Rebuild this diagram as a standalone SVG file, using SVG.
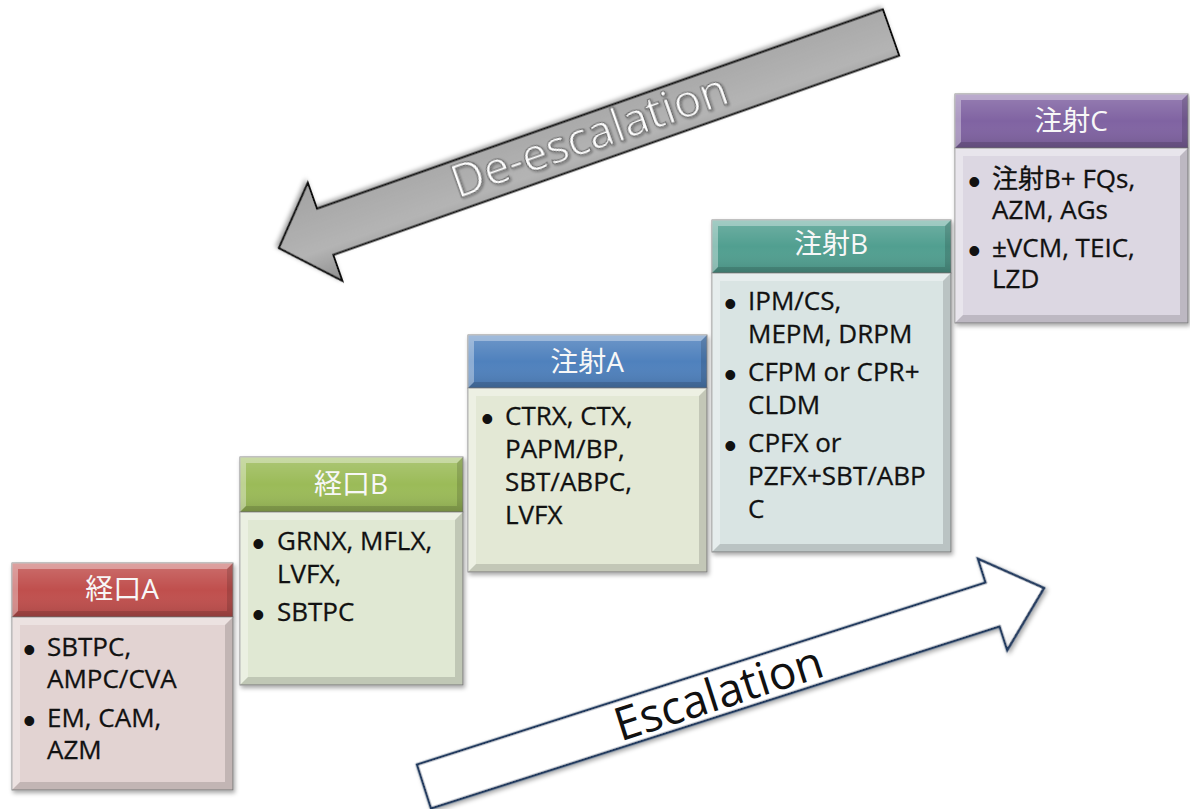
<svg xmlns="http://www.w3.org/2000/svg" width="1190" height="809" viewBox="0 0 1190 809">
  <defs>
    <style>
      .hd-text { font-family: "Open Sans", "Noto Sans CJK JP", sans-serif; font-size: 28px; fill: #F7F7F7; text-anchor: middle; }
      .bd-text { font-family: "Open Sans", "Noto Sans CJK JP", sans-serif; font-size: 26px; fill: #111111; stroke: #111111; stroke-width: 0.3; }
      .bullet { font-family: "Liberation Sans", sans-serif; font-size: 36px; fill: #111111; }
      .hi { fill: #FFFFFF; fill-opacity: 0.35; }
      .lo { fill: #000000; fill-opacity: 0.14; }
      .frame { stroke: #8C8C8C; stroke-width: 1; }
      .gloss { fill: url(#gloss); }
      .arrow-text { font-family: "Open Sans", sans-serif; font-weight: 400; font-size: 46px; text-anchor: middle; }
    </style>
    <linearGradient id="gloss" x1="0" y1="0" x2="0" y2="1">
      <stop offset="0" stop-color="#FFFFFF" stop-opacity="0.18"/>
      <stop offset="0.5" stop-color="#FFFFFF" stop-opacity="0"/>
      <stop offset="1" stop-color="#000000" stop-opacity="0.12"/>
    </linearGradient>
    <linearGradient id="greyArrow" x1="0" y1="0" x2="0" y2="1">
      <stop offset="0" stop-color="#8E8E8E"/>
      <stop offset="0.35" stop-color="#B4B4B4"/>
      <stop offset="1" stop-color="#A2A2A2"/>
    </linearGradient>
    <linearGradient id="whiteArrow" x1="0" y1="0" x2="0" y2="1">
      <stop offset="0" stop-color="#FFFFFF"/>
      <stop offset="0.8" stop-color="#FFFFFF"/>
      <stop offset="1" stop-color="#E6E6E6"/>
    </linearGradient>
    <filter id="shadow" x="-10%" y="-10%" width="120%" height="130%">
      <feDropShadow dx="1.5" dy="2.5" stdDeviation="2" flood-color="#000000" flood-opacity="0.35"/>
    </filter>
    <filter id="textShadow" x="-5%" y="-20%" width="110%" height="140%">
      <feDropShadow dx="1" dy="1.5" stdDeviation="1" flood-color="#000000" flood-opacity="0.35"/>
    </filter>
  </defs>

  <rect x="0" y="0" width="1190" height="809" fill="#FFFFFF"/>

  <!-- block arrows showing the direction of treatment change -->
  <g id="trend-arrows">
    <g id="deescalation" transform="translate(891,32.5) rotate(160.6)">
      <path d="M0,-24.5 H600 V-52 L649,0 L600,52 V24.5 H0 Z" fill="url(#greyArrow)" stroke="#111111" stroke-width="2" stroke-linejoin="miter" filter="url(#shadow)"/>
    </g>
    <g transform="translate(279,248) rotate(-19.4)">
      <text class="arrow-text" x="330" y="13" fill="#FFFFFF" stroke="#6A6A6A" stroke-width="1.1" filter="url(#textShadow)">De-escalation</text>
    </g>
    <g id="escalation" transform="translate(424,786.5) rotate(-17.75)">
      <path d="M0,-23 H597 V-48 L651,0 L597,48 V23 H0 Z" fill="url(#whiteArrow)" stroke="#243B5E" stroke-width="2.5" stroke-linejoin="miter" filter="url(#shadow)"/>
      <text class="arrow-text" x="309" y="17" fill="#111111">Escalation</text>
    </g>
  </g>

  <!-- oral tier A -->
  <g id="oral-a">
    <g filter="url(#shadow)">
      <rect class="frame" x="12" y="617" width="221" height="173" fill="#E2D3D2"/>
      <rect class="frame" x="12" y="563" width="221" height="54" fill="#C0504D"/>
    </g>
    <rect class="gloss" x="12" y="563" width="221" height="54"/>
    <path class="hi" d="M12,563 h221 l-6,6 h-209 v42 l-6,6 z"/>
    <path class="lo" d="M233,563 v54 h-221 l6,-6 h209 v-42 z"/>
    <path class="hi" d="M12,617 h221 l-8,8 h-205 v157 l-8,8 z"/>
    <path class="lo" d="M233,617 v173 h-221 l8,-8 h205 v-157 z"/>
    <text class="hd-text" x="122" y="599">経口A</text>
    <text class="bullet" x="23" y="662">•</text>
    <text class="bd-text" x="47" y="656">SBTPC,</text>
    <text class="bd-text" x="47" y="688">AMPC/CVA</text>
    <text class="bullet" x="23" y="733">•</text>
    <text class="bd-text" x="47" y="727">EM, CAM,</text>
    <text class="bd-text" x="47" y="759">AZM</text>
  </g>

  <!-- oral tier B -->
  <g id="oral-b">
    <g filter="url(#shadow)">
      <rect class="frame" x="240" y="512" width="223" height="173" fill="#E0E8D3"/>
      <rect class="frame" x="240" y="457" width="223" height="55" fill="#9BBB59"/>
    </g>
    <rect class="gloss" x="240" y="457" width="223" height="55"/>
    <path class="hi" d="M240,457 h223 l-6,6 h-211 v43 l-6,6 z"/>
    <path class="lo" d="M463,457 v55 h-223 l6,-6 h211 v-43 z"/>
    <path class="hi" d="M240,512 h223 l-8,8 h-207 v157 l-8,8 z"/>
    <path class="lo" d="M463,512 v173 h-223 l8,-8 h207 v-157 z"/>
    <text class="hd-text" x="351" y="494">経口B</text>
    <text class="bullet" x="252" y="556">•</text>
    <text class="bd-text" x="277" y="550">GRNX, MFLX,</text>
    <text class="bd-text" x="277" y="583">LVFX,</text>
    <text class="bullet" x="252" y="627">•</text>
    <text class="bd-text" x="277" y="621">SBTPC</text>
  </g>

  <!-- injection tier A -->
  <g id="inj-a">
    <g filter="url(#shadow)">
      <rect class="frame" x="468" y="388" width="239" height="184" fill="#E3E8D5"/>
      <rect class="frame" x="468" y="335" width="239" height="53" fill="#4F81BD"/>
    </g>
    <rect class="gloss" x="468" y="335" width="239" height="53"/>
    <path class="hi" d="M468,335 h239 l-6,6 h-227 v41 l-6,6 z"/>
    <path class="lo" d="M707,335 v53 h-239 l6,-6 h227 v-41 z"/>
    <path class="hi" d="M468,388 h239 l-8,8 h-223 v168 l-8,8 z"/>
    <path class="lo" d="M707,388 v184 h-239 l8,-8 h223 v-168 z"/>
    <text class="hd-text" x="587" y="372">注射A</text>
    <text class="bullet" x="481" y="431">•</text>
    <text class="bd-text" x="505" y="425">CTRX, CTX,</text>
    <text class="bd-text" x="505" y="458">PAPM/BP,</text>
    <text class="bd-text" x="505" y="491">SBT/ABPC,</text>
    <text class="bd-text" x="505" y="524">LVFX</text>
  </g>

  <!-- injection tier B -->
  <g id="inj-b">
    <g filter="url(#shadow)">
      <rect class="frame" x="712" y="273" width="239" height="279" fill="#D9E4E3"/>
      <rect class="frame" x="712" y="220" width="239" height="53" fill="#519F90"/>
    </g>
    <rect class="gloss" x="712" y="220" width="239" height="53"/>
    <path class="hi" d="M712,220 h239 l-6,6 h-227 v41 l-6,6 z"/>
    <path class="lo" d="M951,220 v53 h-239 l6,-6 h227 v-41 z"/>
    <path class="hi" d="M712,273 h239 l-8,8 h-223 v263 l-8,8 z"/>
    <path class="lo" d="M951,273 v279 h-239 l8,-8 h223 v-263 z"/>
    <text class="hd-text" x="831" y="254">注射B</text>
    <text class="bullet" x="724" y="316">•</text>
    <text class="bd-text" x="748" y="310">IPM/CS,</text>
    <text class="bd-text" x="748" y="343">MEPM, DRPM</text>
    <text class="bullet" x="724" y="387">•</text>
    <text class="bd-text" x="748" y="381">CFPM or CPR+</text>
    <text class="bd-text" x="748" y="414">CLDM</text>
    <text class="bullet" x="724" y="458">•</text>
    <text class="bd-text" x="748" y="452">CPFX or</text>
    <text class="bd-text" x="748" y="485">PZFX+SBT/ABP</text>
    <text class="bd-text" x="748" y="518">C</text>
  </g>

  <!-- injection tier C -->
  <g id="inj-c">
    <g filter="url(#shadow)">
      <rect class="frame" x="955" y="148" width="233" height="175" fill="#DCD7E2"/>
      <rect class="frame" x="955" y="94" width="233" height="54" fill="#8064A2"/>
    </g>
    <rect class="gloss" x="955" y="94" width="233" height="54"/>
    <path class="hi" d="M955,94 h233 l-6,6 h-221 v42 l-6,6 z"/>
    <path class="lo" d="M1188,94 v54 h-233 l6,-6 h221 v-42 z"/>
    <path class="hi" d="M955,148 h233 l-8,8 h-217 v159 l-8,8 z"/>
    <path class="lo" d="M1188,148 v175 h-233 l8,-8 h217 v-159 z"/>
    <text class="hd-text" x="1071" y="131">注射C</text>
    <text class="bullet" x="968" y="194">•</text>
    <text class="bd-text" x="992" y="188">注射B+ FQs,</text>
    <text class="bd-text" x="992" y="219">AZM, AGs</text>
    <text class="bullet" x="968" y="263">•</text>
    <text class="bd-text" x="992" y="257">±VCM, TEIC,</text>
    <text class="bd-text" x="992" y="288">LZD</text>
  </g>
</svg>
